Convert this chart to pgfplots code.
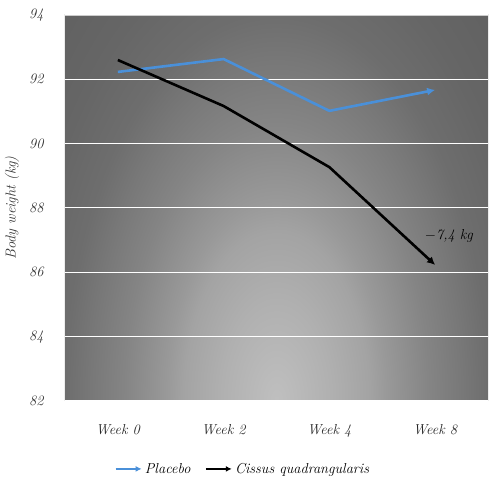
\documentclass[border=0pt]{standalone}
\usepackage{pgfplots}
\pgfplotsset{compat=1.18}
\usetikzlibrary{arrows.meta}

\definecolor{placeboblue}{HTML}{4A90D9}
\definecolor{tickgray}{HTML}{333333}

% elliptical glow, centre of the box = bottom centre of the plot area
% (TikZ maps the path onto the central 50bp of the shading)
\pgfdeclareradialshading{chartbg}{\pgfpoint{0bp}{0bp}}{%
  color(0bp)=(black!25); color(6.5bp)=(black!31); color(11bp)=(black!36);
  color(13bp)=(black!40); color(18bp)=(black!48); color(22bp)=(black!53);
  color(25bp)=(black!57); color(30bp)=(black!60); color(36bp)=(black!62);
  color(50bp)=(black!62)}

\begin{document}
\begin{tikzpicture}
\useasboundingbox (0,0) rectangle (490pt,486pt);
\begin{axis}[
    at={(65pt,85pt)}, anchor=south west,
    scale only axis,
    width=423pt, height=386pt,
    xmin=-0.5, xmax=3.5,
    ymin=82, ymax=94,
    xtick={0,1,2,3},
    xticklabels={Week 0, Week 2, Week 4, Week 8},
    ytick={82,84,...,94},
    ymajorgrids,
    grid style={white, line width=1pt},
    major tick length=0pt,
    axis line style={draw=none},
    axis background/.style={path picture={
        \shade[shading=chartbg] (path picture bounding box.south west) ++(0pt,-386pt)
            rectangle ++(423pt,772pt);
        \draw[black!20, line width=1.2pt] (path picture bounding box.north west)
            -- (path picture bounding box.north east);
        \draw[black!20, line width=1.2pt] (path picture bounding box.south west)
            -- (path picture bounding box.south east);}},
    /pgf/number format/assume math mode=true,
    tick label style={font=\Large\itshape, text=tickgray},
    xticklabel style={yshift=-20pt, text=black!85},
    yticklabel style={xshift=-18pt},
    ylabel={Body weight (kg)},
    ylabel style={font=\Large\itshape, text=tickgray,
        at={(axis description cs:-0.125,0.5)}, anchor=center},
    legend style={at={(0.42,-0.15)}, anchor=north, draw=none, fill=none,
        legend columns=2, font=\Large\itshape,
        /tikz/every even column/.append style={column sep=12pt}},
    legend image code/.code={\draw[#1, -{Latex[length=6pt,width=6pt]}] (0pt,0pt) -- (26pt,0pt);},
    clip=false,
]
\addplot[placeboblue, line width=2.6pt, -{Latex[length=8pt,width=8pt]}]
    coordinates {(0,92.23) (1,92.63) (2,91.02) (3,91.67)};
\addlegendentry{Placebo}
\addplot[black, line width=2.6pt, -{Latex[length=8pt,width=8pt]}]
    coordinates {(0,92.6) (1,91.17) (2,89.27) (3,86.23)};
\addlegendentry{Cissus quadrangularis}
\node[font=\Large\itshape] at (axis cs:3.13,87.13) {$-$7,4 kg};
\end{axis}
\end{tikzpicture}
\end{document}
